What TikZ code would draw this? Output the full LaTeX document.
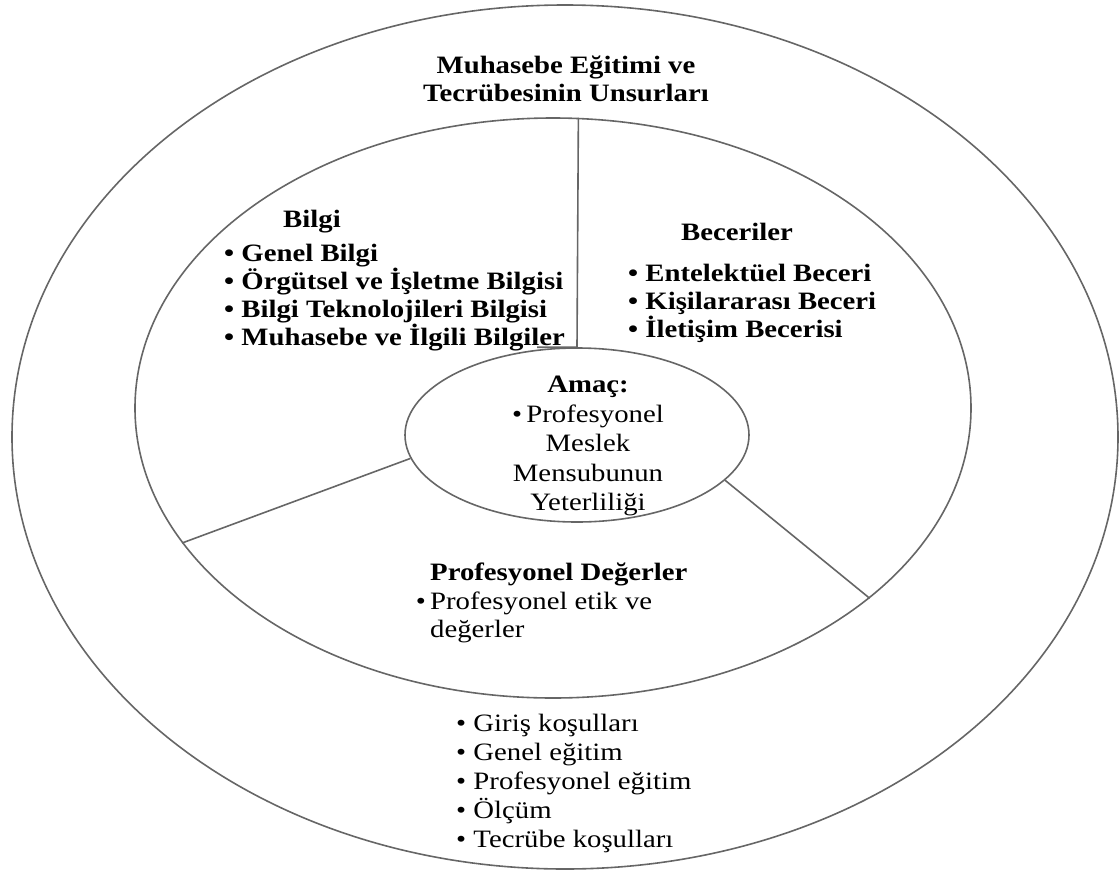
\documentclass[tikz,border=0pt]{standalone}
\usepackage{fontspec}
\setmainfont{Liberation Serif}[FakeStretch=1.15]
\usetikzlibrary{shapes.geometric,positioning}

\begin{document}
\begin{tikzpicture}[x=1pt,y=-1pt,
    ring/.style={ellipse,draw=black!60,line width=1.6pt,inner sep=0pt},
    txt/.style={font=\fontsize{25}{28.5}\selectfont,inner sep=0pt},
    hd/.style={txt,font=\fontsize{25}{28}\selectfont\bfseries}]
\useasboundingbox (0,0) rectangle (1120,876);
\node[ring,minimum width=1106pt,minimum height=864pt] (outer) at (565,437) {};
\node[ring,minimum width=836pt,minimum height=580pt] (mid) at (553,408) {};
\node[ring,minimum width=344pt,minimum height=174pt] (goal) at (577,435) {};
\draw[black!60,line width=1.6pt]
    (mid.85) -- (goal.north) -- ++(-40,0)
    (mid.200) -- (goal.188)
    (mid.-31.6) -- (goal.-17.4);
\node[hd,align=center] (title) at (566,79) {Muhasebe Eğitimi ve\\Tecrübesinin Unsurları};
\node[hd] (bilgi) at (312,222) {Bilgi};
\node[hd,align=left,anchor=west] (bilgilist) at (224,298)
    {\textbullet\ Genel Bilgi\\\textbullet\ Örgütsel ve İşletme Bilgisi\\
     \textbullet\ Bilgi Teknolojileri Bilgisi\\\textbullet\ Muhasebe ve İlgili Bilgiler};
\node[hd] (beceri) at (737,232) {Beceriler};
\node[hd,align=left,anchor=west] (becerilist) at (628,303)
    {\textbullet\ Entelektüel Beceri\\\textbullet\ Kişilararası Beceri\\\textbullet\ İletişim Becerisi};
\node[txt,align=center,font=\fontsize{25}{29.5}\selectfont] (amac) at (588,446)
    {\textbf{Amaç:}\\\textbullet\,Profesyonel\\Meslek\\Mensubunun\\Yeterliliği};
\node[txt,align=left,anchor=west] (deger) at (430,603)
    {\textbf{Profesyonel Değerler}\\\llap{\textbullet\,}Profesyonel etik ve\\değerler};
\node[txt,align=left,anchor=west,font=\fontsize{25}{29}\selectfont] (unsur) at (456,783)
    {\textbullet\ Giriş koşulları\\\textbullet\ Genel eğitim\\\textbullet\ Profesyonel eğitim\\
     \textbullet\ Ölçüm\\\textbullet\ Tecrübe koşulları};
\end{tikzpicture}
\end{document}
